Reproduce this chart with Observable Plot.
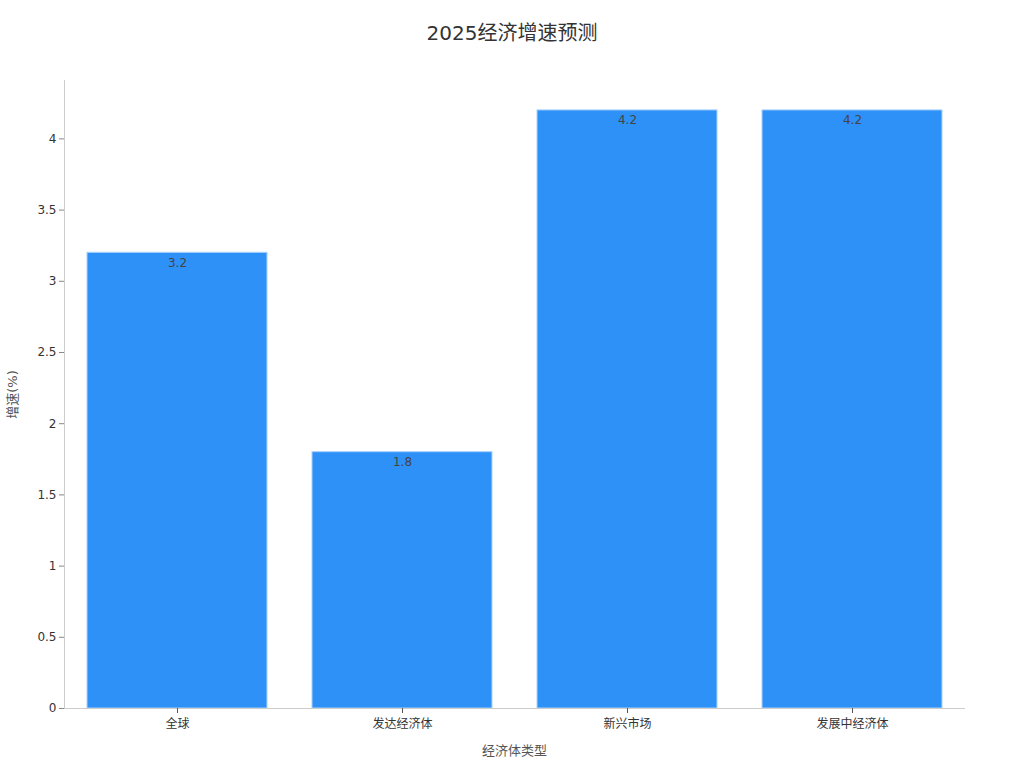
<!DOCTYPE html>
<html>
<head>
<meta charset="utf-8">
<script src="https://cdn.jsdelivr.net/npm/d3@7"></script>
<script src="https://cdn.jsdelivr.net/npm/@observablehq/plot@0.6"></script>
<style>
  body { margin: 0; background: #fff; font-family: "DejaVu Sans", "Noto Sans CJK SC", sans-serif; }
  #title { height: 66px; line-height: 66px; text-align: center; font-size: 20px; color: #333; }
</style>
</head>
<body>
<div id="title">2025经济增速预测</div>
<div id="chart"></div>
<script>
const categories = ["全球", "发达经济体", "新兴市场", "发展中经济体"];
const growth = [3.2, 1.8, 4.2, 4.2];
const yTicks = [0, 0.5, 1, 1.5, 2, 2.5, 3, 3.5, 4];

const data = categories.map((c, i) => ({category: c, value: growth[i]}));

const chart = Plot.plot({
  width: 1024,
  height: 702,
  marginTop: 14,
  marginBottom: 60,
  marginLeft: 64,
  marginRight: 60,
  style: {fontFamily: '"DejaVu Sans", "Noto Sans CJK SC", sans-serif', fontSize: "12px", color: "#333", background: "#fff"},
  x: {domain: categories, paddingInner: 0.2, paddingOuter: 0.1, label: null},
  y: {domain: [0, 4.41], label: null},
  marks: [
    Plot.barY(data, {x: "category", y: "value", fill: "#2E91F8", stroke: "#a9d2fb", strokeWidth: 1}),
    Plot.text(data, {x: "category", y: "value", text: d => String(d.value), dy: 10, fill: "#444", fontSize: 12}),
    Plot.frame({anchor: "left", stroke: "#ccc"}),
    Plot.frame({anchor: "bottom", stroke: "#ccc"}),
    Plot.axisY({ticks: yTicks, tickFormat: d => String(d), tickSize: 5, tickPadding: 3, stroke: "#888", fill: "#333", fontSize: 12, label: null}),
    Plot.axisX({tickSize: 5, tickPadding: 6, stroke: "#555", fill: "#333", fontSize: 12, label: null}),
    Plot.text(["经济体类型"], {frameAnchor: "bottom", dy: 46, fontSize: 13, fill: "#555"}),
    Plot.text(["增速(%)"], {frameAnchor: "left", textAnchor: "middle", dx: -52, rotate: -90, fontSize: 13, fill: "#555"})
  ]
});
document.getElementById("chart").appendChild(chart);
</script>
</body>
</html>
